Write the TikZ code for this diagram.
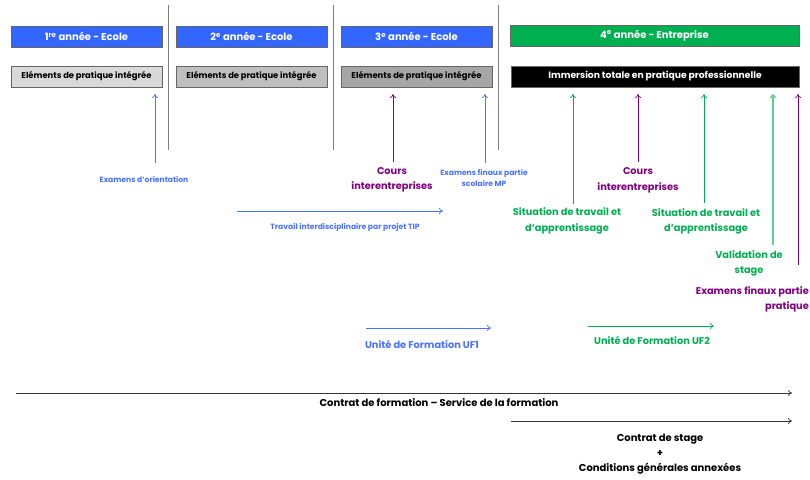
\documentclass[tikz,border=0pt]{standalone}
\usepackage{fontspec}
\setmainfont{Poppins}
\usetikzlibrary{arrows.meta}
\definecolor{cblue}{HTML}{3366FF}
\definecolor{tblue}{HTML}{4A72FF}
\definecolor{cgreen}{HTML}{00B050}
\definecolor{lgreen}{HTML}{5FD08F}
\definecolor{cpurple}{HTML}{800080}
\definecolor{g1}{HTML}{D9D9D9}
\definecolor{g2}{HTML}{BFBFBF}
\definecolor{g3}{HTML}{A6A6A6}
\definecolor{sep}{HTML}{808080}
\begin{document}
\begin{tikzpicture}[x=1pt,y=-1pt,
  yearbox/.style={draw=black!60,line width=0.5pt,minimum height=21pt,inner sep=0pt,text=white,font=\fontsize{10}{11}\selectfont\bfseries},
  elbox/.style={draw=black!60,line width=0.5pt,minimum height=21pt,inner sep=0pt,font=\fontsize{8.4}{9}\selectfont\bfseries},
  sepline/.style={draw=sep,line width=1pt},
  arr/.style={-{To[length=4pt,width=6pt]},line width=0.7pt},
  smalltxt/.style={font=\fontsize{7.6}{11.5}\selectfont\bfseries,align=center,inner sep=0pt},
  bigtxt/.style={font=\fontsize{9.8}{15.5}\selectfont\bfseries,align=center,inner sep=0pt},
  blacktxt/.style={font=\fontsize{10}{15}\selectfont\bfseries,align=center,inner sep=0pt}]
\useasboundingbox (0,0) rectangle (810,479);
% separators
\draw[sepline] (168,5) -- (168,150);
\draw[sepline] (333,5) -- (333,150);
\draw[sepline] (498,5) -- (498,150);
% year boxes
\node[yearbox,fill=cblue,minimum width=151pt] (y1) at (86.5,36.5) {1\textsuperscript{re} année - Ecole};
\node[yearbox,fill=cblue,minimum width=151pt] (y2) at (251.5,36.5) {2\textsuperscript{e} année - Ecole};
\node[yearbox,fill=cblue,minimum width=151pt] (y3) at (416.5,36.5) {3\textsuperscript{e} année - Ecole};
\node[yearbox,fill=cgreen,minimum width=289pt] (y4) at (654.5,35.5) {4\textsuperscript{e} année - Entreprise};
% element boxes
\node[elbox,fill=g1,minimum width=151pt] (e1) at (86.5,76.5) {Eléments de pratique intégrée};
\node[elbox,fill=g2,minimum width=151pt] (e2) at (251.5,76.5) {Eléments de pratique intégrée};
\node[elbox,fill=g3,minimum width=151pt] (e3) at (416.5,76.5) {Eléments de pratique intégrée};
\node[elbox,fill=black,text=white,minimum width=288pt,font=\fontsize{9.2}{10}\selectfont\bfseries] (e4) at (655,76.5) {Immersion totale en pratique professionnelle};
% labels
\node[smalltxt,text=tblue] (l1) at (144,179) {Examens d'orientation};
\node[bigtxt,text=cpurple] (l2) at (392,180) {Cours\\interentreprises};
\node[smalltxt,text=tblue] (l3) at (484,178) {Examens finaux partie\\scolaire MP};
\node[smalltxt,text=tblue] (l4) at (345,227) {Travail interdisciplinaire par projet TIP};
\node[bigtxt,text=cgreen] (l5) at (567,221) {Situation de travail et\\d'apprentissage};
\node[bigtxt,text=cpurple] (l6) at (638,180.5) {Cours\\interentreprises};
\node[bigtxt,text=cgreen] (l7) at (706,221.5) {Situation de travail et\\d'apprentissage};
\node[bigtxt,text=cgreen] (l8) at (749,263.5) {Validation de\\stage};
\node[bigtxt,text=cpurple,align=right,anchor=east] (l9) at (809,299.5) {Examens finaux partie\\pratique};
\node[bigtxt,text=tblue] (l10) at (422,344) {Unité de Formation UF1};
\node[bigtxt,text=cgreen] (l11) at (652,340) {Unité de Formation UF2};
\node[blacktxt] (l12) at (439,403) {Contrat de formation – Service de la formation};
\node[blacktxt] (l13) at (660,454) {Contrat de stage\\+\\Conditions générales annexées};
% coordinates
\coordinate (a1s) at (155,163); \coordinate (a1e) at (155,94);
\coordinate (a2s) at (393,162); \coordinate (a2e) at (393,94);
\coordinate (a3s) at (485,163); \coordinate (a3e) at (485,94);
\coordinate (a4s) at (237,211); \coordinate (a4e) at (443,211);
\coordinate (a5s) at (573,204); \coordinate (a5e) at (573,94);
\coordinate (a6s) at (638,162); \coordinate (a6e) at (638,94);
\coordinate (a7s) at (704,203); \coordinate (a7e) at (704,94);
\coordinate (a8s) at (773,245); \coordinate (a8e) at (773,94);
\coordinate (a9s) at (798,265); \coordinate (a9e) at (798,94);
\coordinate (a10s) at (366,328); \coordinate (a10e) at (491,328);
\coordinate (a11s) at (588,326); \coordinate (a11e) at (714,326);
\coordinate (a12s) at (16,393); \coordinate (a12e) at (792,393);
\coordinate (a13s) at (511,421); \coordinate (a13e) at (792,421);
% arrows
\draw[arr,tblue] (a1s) -- (a1e);
\draw[arr,cpurple] (a2s) -- (a2e);
\draw[arr,tblue] (a3s) -- (a3e);
\draw[arr,tblue] (a4s) -- (a4e);
\draw[arr,cgreen] (a5s) -- (a5e);
\draw[arr,cpurple] (a6s) -- (a6e);
\draw[arr,cgreen] (a7s) -- (a7e);
\draw[arr,lgreen,line width=1.2pt] (a8s) -- (a8e);
\draw[arr,cpurple] (a9s) -- (a9e);
\draw[arr,tblue] (a10s) -- (a10e);
\draw[arr,cgreen] (a11s) -- (a11e);
\draw[arr,black!80] (a12s) -- (a12e);
\draw[arr,black!80] (a13s) -- (a13e);
\end{tikzpicture}
\end{document}
